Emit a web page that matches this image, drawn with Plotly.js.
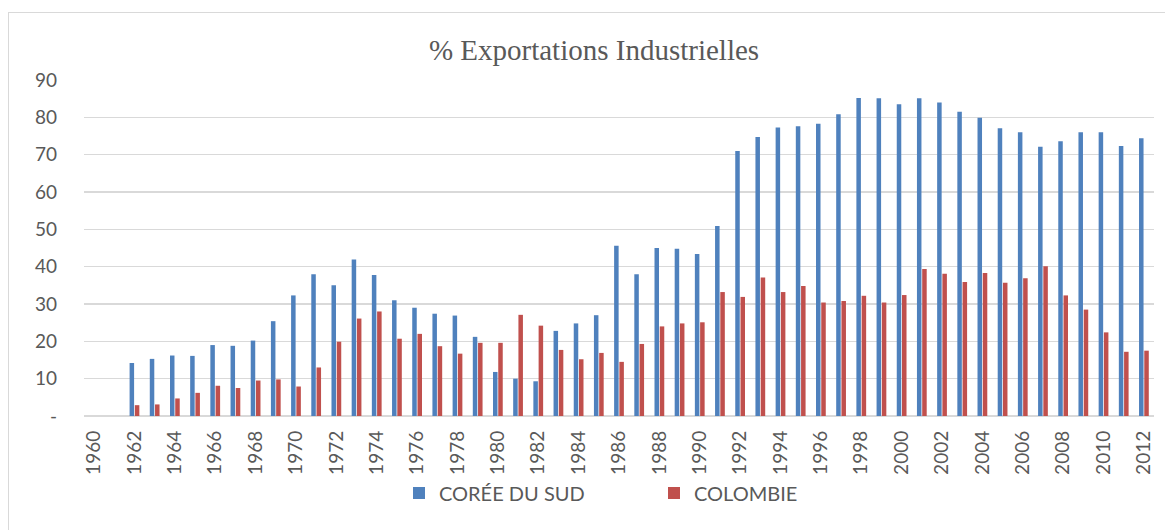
<!DOCTYPE html>
<html>
<head>
<meta charset="utf-8">
<script src="https://cdn.plot.ly/plotly-3.0.1.min.js"></script>
<style>
  html, body { margin: 0; padding: 0; background: #ffffff; }
  #wrap { position: relative; width: 1165px; height: 530px; overflow: hidden; }
  #chart { position: absolute; left: 0; top: 0; width: 1165px; height: 530px; }
  #frame { position: absolute; left: 8px; top: 12px; width: 1180px; height: 540px; border: 1px solid #D9D9D9; pointer-events: none; }
</style>
</head>
<body>
<div id="wrap">
  <div id="chart"></div>
  <div id="frame"></div>
</div>
<script>
// Years
const years = [1960,1961,1962,1963,1964,1965,1966,1967,1968,1969,
               1970,1971,1972,1973,1974,1975,1976,1977,1978,1979,
               1980,1981,1982,1983,1984,1985,1986,1987,1988,1989,
               1990,1991,1992,1993,1994,1995,1996,1997,1998,1999,
               2000,2001,2002,2003,2004,2005,2006,2007,2008,2009,
               2010,2011,2012];

// % Exportations industrielles - Corée du Sud
const coree = [null,null,14.2,15.3,16.2,16.1,19.0,18.8,20.2,25.4,
               32.3,38.0,35.0,41.9,37.8,31.0,29.0,27.4,26.9,21.2,
               11.8,10.0,9.3,22.8,24.8,27.0,45.6,38.0,45.0,44.8,
               43.4,50.9,71.0,74.7,77.3,77.6,78.3,80.8,85.2,85.1,
               83.5,85.1,84.0,81.5,79.9,77.1,76.0,72.1,73.6,76.0,
               76.0,72.3,74.4];

// % Exportations industrielles - Colombie
const colombie = [null,null,2.9,3.1,4.7,6.2,8.1,7.5,9.5,9.8,
                  7.9,13.0,19.9,26.1,28.0,20.7,22.0,18.7,16.7,19.6,
                  19.6,27.1,24.2,17.7,15.2,16.9,14.5,19.3,24.0,24.8,
                  25.1,33.2,31.9,37.1,33.2,34.8,30.4,30.8,32.2,30.4,
                  32.4,39.4,38.1,35.9,38.3,35.7,36.9,40.1,32.3,28.5,
                  22.4,17.2,17.5];

const seriesNames = ["CORÉE DU SUD", "COLOMBIE"];
const yTickVals = [0,10,20,30,40,50,60,70,80,90];
const yTickText = ["-","10","20","30","40","50","60","70","80","90"];
const xTickVals = years.filter(y => y % 2 === 0);

const fontFam = "Lato, 'Open Sans', sans-serif";
const grey = "#595959";

const traces = [
  { type: "bar", name: seriesNames[0], x: years, y: coree,
    marker: { color: "#4F81BD" }, hoverinfo: "x+y" },
  { type: "bar", name: seriesNames[1], x: years, y: colombie,
    marker: { color: "#C0504D" }, hoverinfo: "x+y" }
];

const layout = {
  width: 1165, height: 530,
  margin: { l: 84, r: 11, t: 80, b: 114 },
  paper_bgcolor: "#ffffff", plot_bgcolor: "#ffffff",
  barmode: "group", bargap: 0.48, bargroupgap: 0.14,
  showlegend: true,
  title: {
    text: "% Exportations Industrielles",
    font: { family: "'Liberation Serif', 'Times New Roman', serif", size: 29, color: grey },
    x: 594/1165, xref: "container", xanchor: "center",
    y: 1 - 50/530, yref: "container", yanchor: "middle"
  },
  xaxis: {
    type: "linear", range: [1959.5, 2012.5],
    tickmode: "array", tickvals: xTickVals, ticktext: xTickVals.map(String),
    tickangle: -90, ticks: "", showgrid: false, zeroline: false,
    showline: false, ticklabelstandoff: 10,
    tickfont: { family: fontFam, size: 19, color: grey }
  },
  yaxis: {
    range: [0, 90], tickmode: "array", tickvals: yTickVals, ticktext: yTickText,
    showgrid: true, gridcolor: "#D9D9D9", gridwidth: 1.5,
    zeroline: true, zerolinecolor: "#D9D9D9", zerolinewidth: 1.5,
    ticks: "", showline: false, ticklabelstandoff: 26,
    tickfont: { family: fontFam, size: 19, color: grey }
  },
  legend: {
    orientation: "h", xref: "container", yref: "container",
    x: 399/1165, xanchor: "left", y: 1 - 493/530, yanchor: "middle",
    entrywidth: 210, entrywidthmode: "pixels",
    font: { family: fontFam, size: 20, color: grey },
    bgcolor: "rgba(0,0,0,0)"
  }
};

Plotly.newPlot("chart", traces, layout, { displayModeBar: false, staticPlot: true });
</script>
</body>
</html>
